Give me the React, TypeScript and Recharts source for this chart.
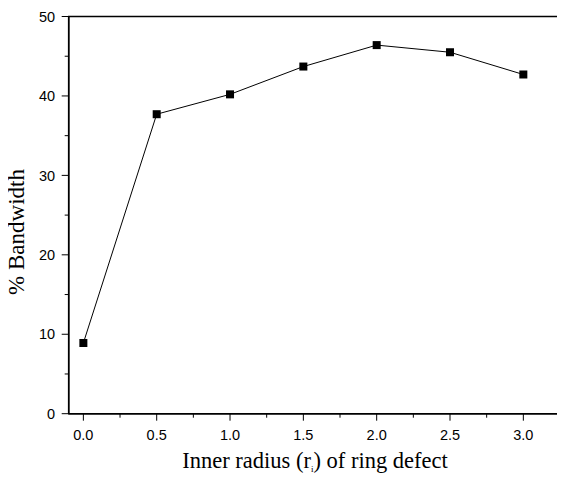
import { LineChart, Line, XAxis, YAxis, ReferenceArea } from 'recharts';

const radius = [0.0, 0.5, 1.0, 1.5, 2.0, 2.5, 3.0];
const bandwidth = [8.9, 37.7, 40.2, 43.7, 46.4, 45.5, 42.7];

const xTicks = [0, 0.25, 0.5, 0.75, 1, 1.25, 1.5, 1.75, 2, 2.25, 2.5, 2.75, 3];
const yTicks = [0, 5, 10, 15, 20, 25, 30, 35, 40, 45, 50];

const data = radius.map((r, i) => ({ r, bw: bandwidth[i] }));

const tickFont = '"Liberation Sans", Arial, sans-serif';
const titleFont = '"Liberation Serif", "Times New Roman", serif';

function XTick(props: any) {
  const { x, y, payload } = props;
  const major = Math.abs((payload.value * 2) % 1) < 1e-6;
  return (
    <g>
      <line x1={x} x2={x} y1={y} y2={y + (major ? 7 : 4)} stroke="#000" strokeWidth={1} />
      {major && (
        <text x={x} y={y + 26.5} textAnchor="middle" fontFamily={tickFont} fontSize={14.5} fill="#000">
          {payload.value.toFixed(1)}
        </text>
      )}
    </g>
  );
}

function YTick(props: any) {
  const { x, y, payload } = props;
  const major = payload.value % 10 === 0;
  return (
    <g>
      <line x1={x} x2={x - (major ? 7 : 4)} y1={y} y2={y} stroke="#000" strokeWidth={1} />
      {major && (
        <text x={x - 13.5} y={y} dy="0.36em" textAnchor="end" fontFamily={tickFont} fontSize={14.5} fill="#000">
          {payload.value}
        </text>
      )}
    </g>
  );
}

function SquareDot(props: any) {
  const { cx, cy } = props;
  return <rect x={cx - 4} y={cy - 4} width={8} height={8} fill="#000" />;
}

export default function App() {
  return (
    <LineChart
      width={557}
      height={469}
      data={data}
      margin={{ top: 8.5, right: 5, left: 0, bottom: 0 }}
    >
      <XAxis
        dataKey="r"
        type="number"
        domain={[-0.1, 3.25]}
        ticks={xTicks}
        interval={0}
        allowDataOverflow
        height={63.3}
        tickSize={0}
        tickMargin={0}
        tickLine={false}
        axisLine={{ stroke: '#000', strokeWidth: 1.5 }}
        tick={<XTick />}
        label={{
          content: () => (
            <text x={307} y={460} textAnchor="middle" fontFamily={titleFont} fontSize={22.5} fill="#000">
              Inner radius (r<tspan fontSize={9} dy={4}>i</tspan><tspan dy={-4}>) of ring defect</tspan>
            </text>
          ),
        }}
      />
      <YAxis
        type="number"
        domain={[0, 50]}
        ticks={yTicks}
        interval={0}
        width={60.7}
        tickSize={0}
        tickMargin={0}
        tickLine={false}
        axisLine={{ stroke: '#000', strokeWidth: 1.5 }}
        tick={<YTick />}
        label={{
          content: () => (
            <text
              x={16}
              y={224}
              transform="rotate(-90 16 224)"
              textAnchor="middle"
              fontFamily={titleFont}
              fontSize={23}
              fill="#000"
            >
              % Bandwidth
            </text>
          ),
        }}
      />
      <ReferenceArea
        x1={-0.1}
        x2={3.25}
        y1={0}
        y2={50}
        fill="none"
        fillOpacity={0}
        stroke="#000"
        strokeWidth={1.5}
        ifOverflow="visible"
      />
      <Line
        dataKey="bw"
        type="linear"
        stroke="#000"
        strokeWidth={1}
        dot={<SquareDot />}
        activeDot={false}
        isAnimationActive={false}
      />
    </LineChart>
  );
}
